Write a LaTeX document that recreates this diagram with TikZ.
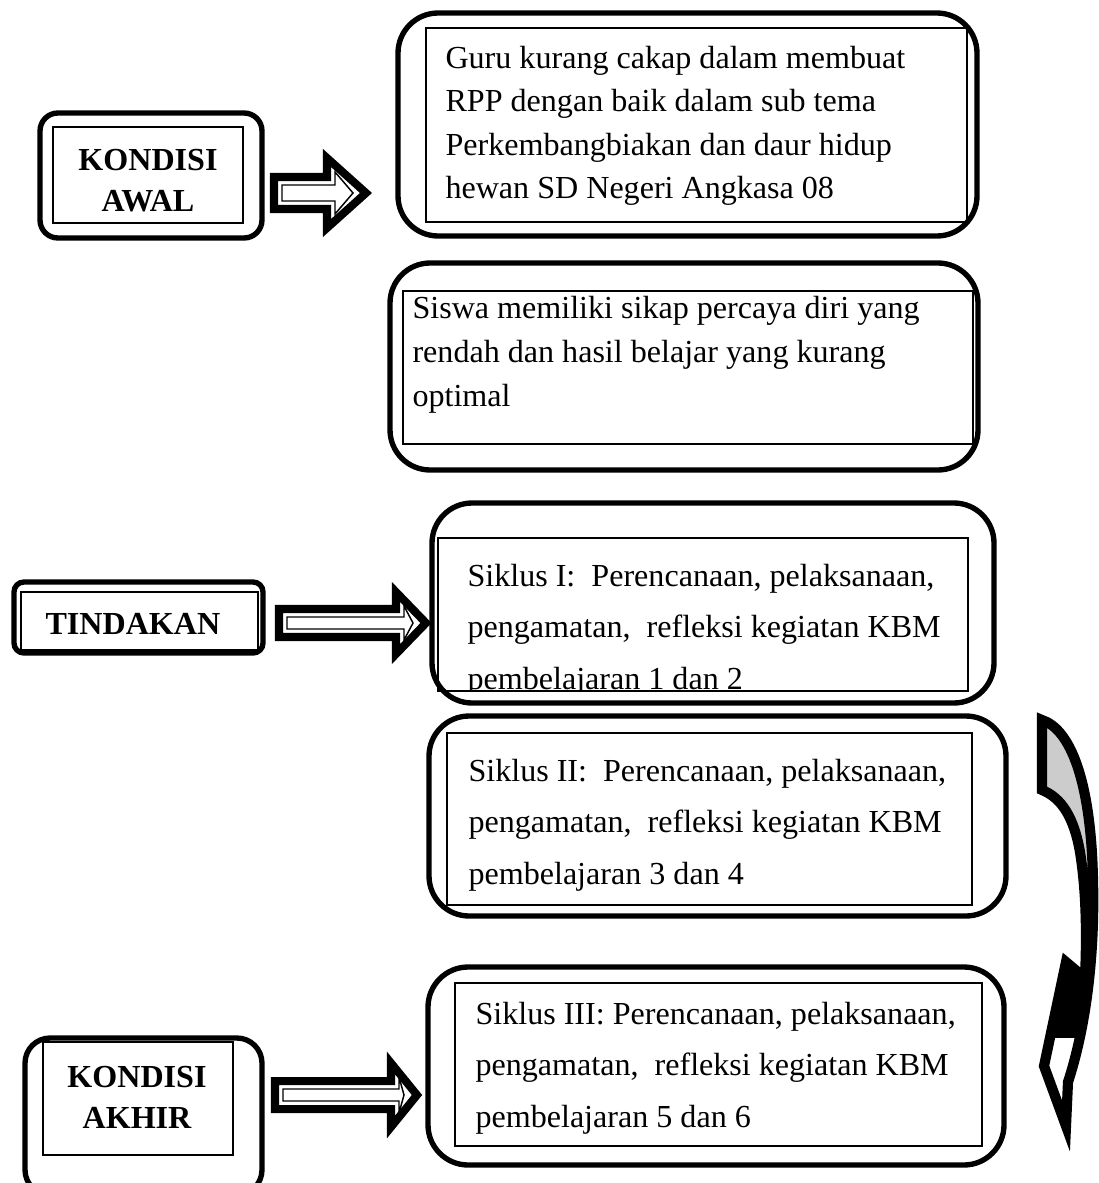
\documentclass[tikz,border=0pt]{standalone}
\usepackage{fontspec}
\setmainfont{Liberation Serif}
\usetikzlibrary{fit}

\begin{document}
\begin{tikzpicture}[
    x=0.374pt, y=-0.374pt,
    every node/.style={font=\fontsize{12}{16.3}\selectfont},
    outbox/.style={draw, line width=2pt, rounded corners=15pt, inner sep=0pt},
    inbox/.style={draw, line width=0.6pt, inner sep=0pt},
    txt/.style={anchor=base west, inner sep=0pt, align=left},
    siklus/.style={txt, font=\fontsize{12}{19.1}\selectfont},
    headtxt/.style={inner sep=0pt, align=center, font=\bfseries\fontsize{12}{15.2}\selectfont},
    arrout/.style={draw, fill=white, line width=3pt, line join=miter},
    arrin/.style={draw, line width=0.55pt, line join=miter}
  ]
  \clip (0,0) rectangle (1099,1183);

  % left column (text nodes sit on the baseline of their last line)
  \node[outbox, rounded corners=6.7pt, fit={(40,113) (262,238)}] (awal) {};
  \node[inbox, fit={(53,127) (243,223)}] (awalin) {};
  \node[headtxt, anchor=base] (awaltxt) at (148,211) {KONDISI\\AWAL};

  \node[outbox, rounded corners=3.7pt, fit={(14,582) (263,653)}] (tind) {};
  \node[inbox, fit={(21,592) (258,650)}] (tindin) {};
  \node[headtxt, anchor=base west] (tindtxt) at (45,634) {TINDAKAN};

  \node[outbox, rounded corners=9.4pt, fit={(25,1038) (262,1195)}] (akhir) {};
  \node[inbox, fit={(43,1042) (233,1155)}] (akhirin) {};
  \node[headtxt, anchor=base] (akhirtxt) at (137,1128) {KONDISI\\AKHIR};

  % right column
  \node[outbox, fit={(398,13) (977,236)}] (guru) {};
  \node[inbox, fit={(426,28) (967,222)}] (guruin) {};
  \node[txt] (gurutxt) at (445,199) {Guru kurang cakap dalam membuat\\RPP dengan baik dalam sub tema\\Perkembangbiakan dan daur hidup\\hewan SD Negeri Angkasa 08};

  \node[outbox, fit={(390,263) (978,470)}] (siswa) {};
  \node[inbox, fit={(403,291) (973,444)}] (siswain) {};
  \node[txt] (siswatxt) at (412,406) {Siswa memiliki sikap percaya diri yang\\rendah dan hasil belajar yang kurang\\optimal};

  \node[outbox, fit={(432,503) (994,703)}] (sik1) {};
  \node[inbox, fit={(438,538) (968,691)}] (sik1in) {};
  \begin{scope}
    \clip (438,538) rectangle (968,691);
    \node[siklus] (sik1txt) at (467,689) {Siklus I:~ Perencanaan, pelaksanaan,\\pengamatan,~ refleksi kegiatan KBM\\pembelajaran 1 dan 2};
  \end{scope}

  \node[outbox, fit={(429,716) (1006,916)}] (sik2) {};
  \node[inbox, fit={(447,733) (972,905)}] (sik2in) {};
  \node[siklus] (sik2txt) at (468,884) {Siklus II:~ Perencanaan, pelaksanaan,\\pengamatan,~ refleksi kegiatan KBM\\pembelajaran 3 dan 4};

  \node[outbox, fit={(428,967) (1004,1165)}] (sik3) {};
  \node[inbox, fit={(455,983) (982,1146)}] (sik3in) {};
  \node[siklus] (sik3txt) at (475,1127) {Siklus III: Perencanaan, pelaksanaan,\\pengamatan,~ refleksi kegiatan KBM\\pembelajaran 5 dan 6};

  % block arrows
  \foreach \xa/\xb/\yc/\s/\h/\hl in {270/372/193/20/41/49, 275/432/623/18/37/40, 271/423/1095/18/38/36} {
    \draw[arrout] (\xa+4,\yc-\s+4) -- (\xb-\hl+4,\yc-\s+4) -- (\xb-\hl+4,\yc-\h+6)
      -- (\xb-6,\yc) -- (\xb-\hl+4,\yc+\h-6) -- (\xb-\hl+4,\yc+\s-4) -- (\xa+4,\yc+\s-4) -- cycle;
    \draw[arrin] (\xa+12,\yc-\s+12) -- (\xb-\hl+12,\yc-\s+12) -- (\xb-\hl+12,\yc-\h+20)
      -- (\xb-19,\yc) -- (\xb-\hl+12,\yc+\h-20) -- (\xb-\hl+12,\yc+\s-12) -- (\xa+12,\yc+\s-12) -- cycle;
  }

  % curved arrow on the right
  \path[save path=\curvedarr] (1042,720) .. controls (1070,729) and (1091,780) .. (1093,880)
    .. controls (1095,960) and (1085,1030) .. (1068,1082) -- (1066,1126) -- (1044,1066)
    -- (1066,962) -- (1085,978) .. controls (1087,930) and (1086,890) .. (1080,852)
    .. controls (1074,818) and (1062,798) .. (1042,790) -- cycle;
  \begin{scope}
    \clip[use path=\curvedarr];
    \fill[gray!40] (1030,700) rectangle (1100,900);
    \fill (1030,900) rectangle (1100,1038);
  \end{scope}
  \draw[line width=3.8pt, line join=miter, use path=\curvedarr];
\end{tikzpicture}
\end{document}
